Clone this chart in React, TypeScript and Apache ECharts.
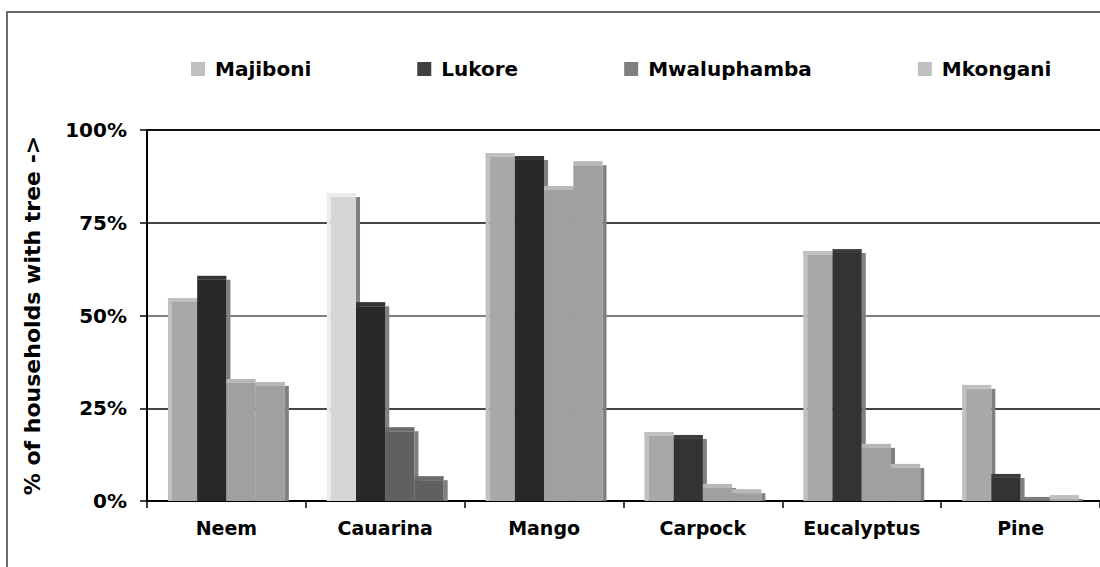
import React, { useEffect, useRef } from "react";
import * as echarts from "echarts";

const categories = ["Neem", "Cauarina", "Mango", "Carpock", "Eucalyptus", "Pine"];
const seriesNames = ["Majiboni", "Lukore", "Mwaluphamba", "Mkongani"];
const majiboni = [54.7, 83.0, 93.8, 18.6, 67.4, 31.3];
const lukore = [60.7, 53.6, 93.0, 17.8, 67.9, 7.3];
const mwaluphamba = [32.9, 19.9, 84.9, 4.6, 15.4, 1.1];
const mkongani = [32.1, 6.7, 91.6, 3.2, 10.0, 1.6];
const yTickStep = 25;

// styles (separate from data)
const legendColors = ["#c0c0c0", "#404040", "#808080", "#c0c0c0"];
const faceColors = [
  ["#a8a8a8", "#d6d6d6", "#a8a8a8", "#a8a8a8", "#a8a8a8", "#a8a8a8"],
  ["#282828", "#282828", "#282828", "#333333", "#333333", "#333333"],
  ["#a0a0a0", "#606060", "#a0a0a0", "#a0a0a0", "#a0a0a0", "#6c6c6c"],
  ["#a0a0a0", "#606060", "#a0a0a0", "#a0a0a0", "#a0a0a0", "#a8a8a8"],
];
const edgeColors = [
  ["#c0c0c0", "#ececec", "#c0c0c0", "#c0c0c0", "#c0c0c0", "#c0c0c0"],
  ["#333333", "#333333", "#333333", "#3c3c3c", "#3c3c3c", "#3c3c3c"],
  ["#b8b8b8", "#6c6c6c", "#b8b8b8", "#b8b8b8", "#b8b8b8", "#7c7c7c"],
  ["#b8b8b8", "#6c6c6c", "#b8b8b8", "#b8b8b8", "#b8b8b8", "#c0c0c0"],
];
const shadowColor = "#808080";

const FONT = "DejaVu Sans";

export default function App() {
  const ref = useRef<HTMLDivElement>(null);
  useEffect(() => {
    if (!ref.current) return;
    const chart = echarts.init(ref.current, null, { renderer: "svg" });
    const allValues = [majiboni, lukore, mwaluphamba, mkongani];

    const makeSeries = (s: number) => ({
      type: "custom",
      name: seriesNames[s],
      itemStyle: { color: legendColors[s] },
      encode: { x: 0, y: 1 },
      data: allValues[s].map((v, i) => [i, v]),
      renderItem: (params: any, api: any) => {
        const ci = api.value(0);
        const v = api.value(1);
        const base = api.coord([ci, 0]);
        const top = api.coord([ci, v]);
        const band = api.size([1, 0])[0];
        const w = band * 0.184;
        const x0 = base[0] - 2 * w + s * w;
        const h = base[1] - top[1];
        const d = Math.min(4, h);
        const face = faceColors[s][ci];
        const edge = edgeColors[s][ci];
        const children: any[] = [
          {
            type: "rect",
            shape: { x: x0 + w, y: top[1] + d, width: 4, height: Math.max(h - d, 0) },
            style: { fill: shadowColor },
          },
          {
            type: "rect",
            shape: { x: x0, y: top[1], width: w, height: d },
            style: { fill: edge },
          },
        ];
        if (s === 0) {
          children.push({
            type: "rect",
            shape: { x: x0, y: top[1], width: 4, height: h },
            style: { fill: edge },
          });
          children.push({
            type: "rect",
            shape: { x: x0 + 4, y: top[1] + d, width: w - 4, height: Math.max(h - d, 0) },
            style: { fill: face },
          });
        } else {
          children.push({
            type: "rect",
            shape: { x: x0, y: top[1] + d, width: w, height: Math.max(h - d, 0) },
            style: { fill: face },
          });
        }
        return { type: "group", children };
      },
    });

    chart.setOption({
      animation: false,
      backgroundColor: "#ffffff",
      graphic: [
        {
          type: "rect",
          silent: true,
          shape: { x: 7, y: 12, width: 1200, height: 700 },
          style: { fill: "none", stroke: "#6a6a6a", lineWidth: 2 },
        },
      ],
      legend: {
        left: 186,
        top: 54,
        icon: "rect",
        itemWidth: 14,
        itemHeight: 14,
        itemGap: 106,
        data: seriesNames,
        textStyle: {
          fontFamily: FONT,
          fontWeight: "bold",
          fontSize: 20,
          color: "#000",
          padding: [0, 0, 0, 5],
        },
      },
      grid: { left: 147, top: 130, width: 963, height: 371 },
      xAxis: {
        type: "category",
        data: categories,
        boundaryGap: true,
        axisLine: { lineStyle: { color: "#000", width: 2 } },
        axisTick: { show: true, length: 7, lineStyle: { color: "#000", width: 1.5 } },
        axisLabel: {
          fontFamily: FONT,
          fontWeight: "bold",
          fontSize: 19,
          color: "#000",
          margin: 17,
        },
        splitLine: { show: false },
      },
      yAxis: {
        type: "value",
        min: 0,
        max: 100,
        interval: yTickStep,
        name: "% of households with tree ->",
        nameLocation: "middle",
        nameGap: 104,
        nameTextStyle: {
          fontFamily: FONT,
          fontWeight: "bold",
          fontSize: 22,
          color: "#000",
        },
        axisLine: { show: true, lineStyle: { color: "#000", width: 2 } },
        axisTick: { show: true, length: 7, lineStyle: { color: "#000", width: 1.5 } },
        axisLabel: {
          formatter: "{value}%",
          fontFamily: FONT,
          fontWeight: "bold",
          fontSize: 20,
          color: "#000",
          margin: 20,
        },
        splitLine: {
          show: true,
          lineStyle: { color: ["#000", "#444444", "#808080", "#444444", "#111111"], width: 2 },
        },
      },
      series: [0, 1, 2, 3].map(makeSeries),
    });
    return () => chart.dispose();
  }, []);
  return (
    <div
      ref={ref}
      style={{ position: "absolute", left: 0, top: 0, width: 1100, height: 567 }}
    />
  );
}
